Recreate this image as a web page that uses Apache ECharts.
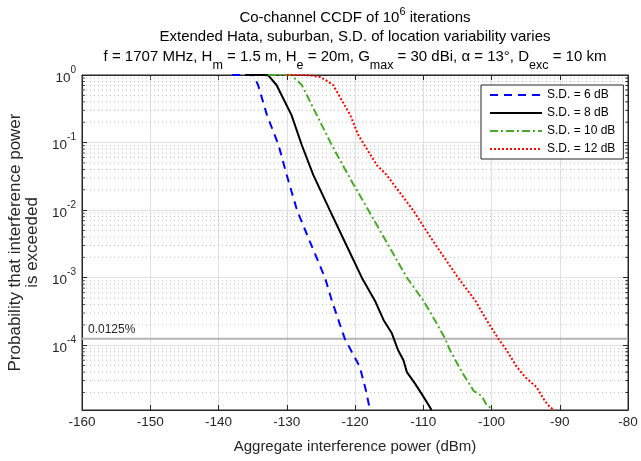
<!DOCTYPE html>
<html>
<head>
<meta charset="utf-8">
<script src="https://cdn.jsdelivr.net/npm/echarts@6/dist/echarts.min.js"></script>
<style>html,body{margin:0;padding:0;background:#fff}#c{width:641px;height:461px}</style>
</head>
<body>
<div id="c"></div>
<script>
// ---- data ----
var seriesNames = ['S.D. = 6 dB', 'S.D. = 8 dB', 'S.D. = 10 dB', 'S.D. = 12 dB'];
var sd6X = [-138, -135.5, -134.9, -134.2, -132.9, -131.2, -130.0, -128.5, -126.6, -124.4, -123.4, -121.5, -119.3, -118.4, -117.8];
var sd6Y = [1, 1, 0.99, 0.71, 0.255, 0.092, 0.033, 0.01, 3.4e-3, 1e-3, 4.6e-4, 1.25e-4, 4.8e-5, 2.15e-5, 1.1e-5];
var sd8X = [-136.1, -133.5, -132.7, -131.5, -129.3, -127.8, -126.1, -123.7, -121.5, -119.0, -117.1, -115.8, -114.6, -113.7, -112.9, -112.4, -111.2, -110.0, -109.0, -108.8];
var sd8Y = [1, 1, 0.99, 0.711, 0.255, 0.092, 0.033, 0.01, 3.4e-3, 1e-3, 4.6e-4, 2.35e-4, 1.5e-4, 8.5e-5, 6.0e-5, 4.0e-5, 2.7e-5, 1.75e-5, 1.2e-5, 1.1e-5];
var sd10X = [-132.7, -130.0, -129.3, -127.8, -125.6, -123.4, -121.0, -118.05, -115.4, -112.4, -110.0, -108.3, -106.8, -106.1, -104.2, -103.4, -102.6, -102.0, -101.4, -100.7, -99.7];
var sd10Y = [1, 1, 0.99, 0.711, 0.255, 0.092, 0.033, 0.01, 3.4e-3, 1e-3, 4.6e-4, 2.35e-4, 1.25e-4, 8.5e-5, 3.8e-5, 2.85e-5, 2.1e-5, 1.95e-5, 1.75e-5, 1.3e-5, 1.1e-5];
var sd12X = [-130, -127.5, -126.6, -125.0, -123.2, -120.7, -119.5, -116.8, -115.35, -111.5, -108.5, -104.9, -102.4, -100.7, -99.0, -97.8, -96.3, -95.1, -93.4, -92.2, -91.4, -90.7];
var sd12Y = [1, 1, 0.99, 0.93, 0.711, 0.255, 0.128, 0.0464, 0.033, 0.01, 3.4e-3, 1e-3, 4.6e-4, 2.35e-4, 1.25e-4, 8.5e-5, 4.8e-5, 3.4e-5, 2.4e-5, 1.5e-5, 1.2e-5, 1.1e-5];
var xMin = -160, xMax = -80, xStep = 10;
var yMin = 1.1e-5, yMax = 1;
var thresholdValue = 1.25e-4;
var thresholdLabel = '0.0125%';
var xName = 'Aggregate interference power (dBm)';
var yName = 'Probability that interference power\nis exceeded';
var titleLine1 = [['Co-channel CCDF of 10', 'n'], ['6', 'sup'], [' iterations', 'n']];
var titleLine2 = [['Extended Hata, suburban, S.D. of location variability varies', 'n']];
var titleLine3 = [['f = 1707 MHz, H', 'n'], ['m', 'sub'], [' = 1.5 m, H', 'n'], ['e', 'sub'], [' = 20m, G', 'n'], ['max', 'sub'],
                  [' = 30 dBi, ', 'n'], ['α', 'n'], [' = 13°, D', 'n'], ['exc', 'sub'], [' = 10 km', 'n']];

function pairs(xs, ys) { return xs.map(function (x, i) { return [x, ys[i]]; }); }

var FONT = '"Liberation Sans", Arial, Helvetica, sans-serif';
var TXT = '#262626';

// horizontal reference segments between x0 and x1 (gaps between them)
function hSegData(values, x0, x1) {
  var d = [];
  values.forEach(function (v, i) {
    if (i > 0) d.push([null, null]);
    d.push([x0, v]); d.push([x1, v]);
  });
  return d;
}
var minorY = [];
for (var n = -5; n < 0; n++) {
  for (var k = 2; k <= 9; k++) {
    var v = k * Math.pow(10, n);
    if (v > yMin) minorY.push(v);
  }
}
var minorTickLen = 0.4; // in x units, ~3px

// text line builder with super/subscripts
var mctx = document.createElement('canvas').getContext('2d');
function fontFor(type) { return (type === 'n' ? 15 : (type === 'sup' ? 11 : 12.5)) + 'px ' + FONT; }
function buildLine(segs, cx, cy) {
  var widths = segs.map(function (s) { mctx.font = fontFor(s[1]); return mctx.measureText(s[0]).width; });
  var total = widths.reduce(function (a, b) { return a + b; }, 0);
  var x = cx - total / 2;
  var els = [];
  segs.forEach(function (s, i) {
    var dy = s[1] === 'sup' ? -6 : (s[1] === 'sub' ? 9 : 0);
    els.push({ type: 'text', x: x, y: cy + dy, silent: true,
      style: { text: s[0], font: fontFor(s[1]), fill: '#000', align: 'left', verticalAlign: 'middle' } });
    x += widths[i];
  });
  return els;
}

var chart = echarts.init(document.getElementById('c'), null, { renderer: 'canvas' });

var axisBase = {
  axisLine: { show: true, lineStyle: { color: '#262626' } },
  axisTick: { show: true, inside: true, length: 5, lineStyle: { color: '#262626' } }
};

var option = {
  animation: false,
  backgroundColor: '#fff',
  legend: {
    data: seriesNames,
    orient: 'vertical',
    left: 481, top: 85,
    backgroundColor: '#fff',
    borderColor: '#262626', borderWidth: 1, borderRadius: 0,
    padding: [4, 8, 4, 8],
    itemGap: 6,
    itemWidth: 52, itemHeight: 10,
    itemStyle: { color: 'rgba(0,0,0,0)', borderWidth: 0, opacity: 0 },
    textStyle: { fontSize: 12, color: '#000', fontFamily: FONT }
  },
  grid: { left: 82, right: 13, top: 75, bottom: 51, show: true, borderColor: '#262626', borderWidth: 1,
          backgroundColor: 'transparent', containLabel: false, outerBoundsMode: 'none' },
  xAxis: [Object.assign({
    type: 'value', min: xMin, max: xMax, interval: xStep,
    name: xName, nameLocation: 'middle', nameGap: 29,
    nameTextStyle: { fontSize: 15, color: TXT, fontFamily: FONT },
    axisLabel: { fontSize: 13.5, color: TXT, fontFamily: FONT, margin: 5 },
    splitLine: { show: true, lineStyle: { color: '#e0e0e0', width: 1 } }
  }, axisBase), Object.assign({
    type: 'value', min: xMin, max: xMax, interval: xStep, position: 'top',
    axisLabel: { show: false }, splitLine: { show: false }
  }, axisBase)],
  yAxis: [Object.assign({
    type: 'log', logBase: 10, min: yMin, max: yMax,
    name: yName, nameLocation: 'middle', nameGap: 38,
    nameTextStyle: { fontSize: 17, color: TXT, fontFamily: FONT, lineHeight: 17 },
    axisLabel: {
      color: TXT, margin: 6,
      formatter: function (v) {
        var e = Math.log10(v);
        if (Math.abs(e - Math.round(e)) > 1e-6) return '';
        return '{b|10}{sup|' + Math.round(e) + '}';
      },
      rich: {
        b: { fontSize: 13.5, color: TXT, fontFamily: FONT, lineHeight: 20, verticalAlign: 'bottom' },
        sup: { fontSize: 10, color: TXT, fontFamily: FONT, lineHeight: 10, verticalAlign: 'top' }
      }
    },
    splitLine: { show: true, lineStyle: { color: '#e0e0e0', width: 1 } }
  }, axisBase), Object.assign({
    type: 'log', logBase: 10, min: yMin, max: yMax, position: 'right',
    axisLabel: { show: false }, splitLine: { show: false }
  }, axisBase)],
  series: [
    { name: '_minor', type: 'line', data: hSegData(minorY, xMin, xMax), silent: true, symbol: 'none', connectNulls: false,
      lineStyle: { color: '#bdbdbd', type: [1, 3], width: 1 }, z: 1 },
    { name: '_minorTickL', type: 'line', data: hSegData(minorY, xMin, xMin + minorTickLen), silent: true, symbol: 'none', connectNulls: false,
      lineStyle: { color: '#262626', type: 'solid', width: 1 }, z: 2 },
    { name: '_minorTickR', type: 'line', data: hSegData(minorY, xMax - minorTickLen, xMax), silent: true, symbol: 'none', connectNulls: false,
      lineStyle: { color: '#262626', type: 'solid', width: 1 }, z: 2 },
    { name: '_thr', type: 'line', data: hSegData([thresholdValue], xMin, xMax), silent: true, symbol: 'none',
      lineStyle: { color: '#b4b4b4', type: 'solid', width: 2 }, z: 1 },
    { name: seriesNames[0], type: 'line', data: pairs(sd6X, sd6Y), showSymbol: false, symbol: 'none', z: 3,
      lineStyle: { color: '#0000ff', width: 2, type: [8, 6] }, itemStyle: { color: '#0000ff' } },
    { name: seriesNames[1], type: 'line', data: pairs(sd8X, sd8Y), showSymbol: false, symbol: 'none', z: 3,
      lineStyle: { color: '#000000', width: 2, type: 'solid' }, itemStyle: { color: '#000000' } },
    { name: seriesNames[2], type: 'line', data: pairs(sd10X, sd10Y), showSymbol: false, symbol: 'none', z: 3,
      lineStyle: { color: '#4aa829', width: 2, type: [8, 3, 2, 3] }, itemStyle: { color: '#4aa829' } },
    { name: seriesNames[3], type: 'line', data: pairs(sd12X, sd12Y), showSymbol: false, symbol: 'none', z: 3,
      lineStyle: { color: '#ff0000', width: 2, type: [2, 2] }, itemStyle: { color: '#ff0000' } }
  ]
};
chart.setOption(option);

var titleCx = 355;
var gEls = [].concat(buildLine(titleLine1, titleCx, 18), buildLine(titleLine2, titleCx, 37), buildLine(titleLine3, titleCx, 56.5));
var thrPt = chart.convertToPixel({ gridIndex: 0 }, [xMin, thresholdValue]);
gEls.push({ type: 'text', x: thrPt[0] + 6, y: thrPt[1] - 3, silent: true, z: 10,
  style: { text: thresholdLabel, font: '12px ' + FONT, fill: TXT, align: 'left', verticalAlign: 'bottom' } });
chart.setOption({ graphic: { elements: gEls } });
</script>
</body>
</html>
